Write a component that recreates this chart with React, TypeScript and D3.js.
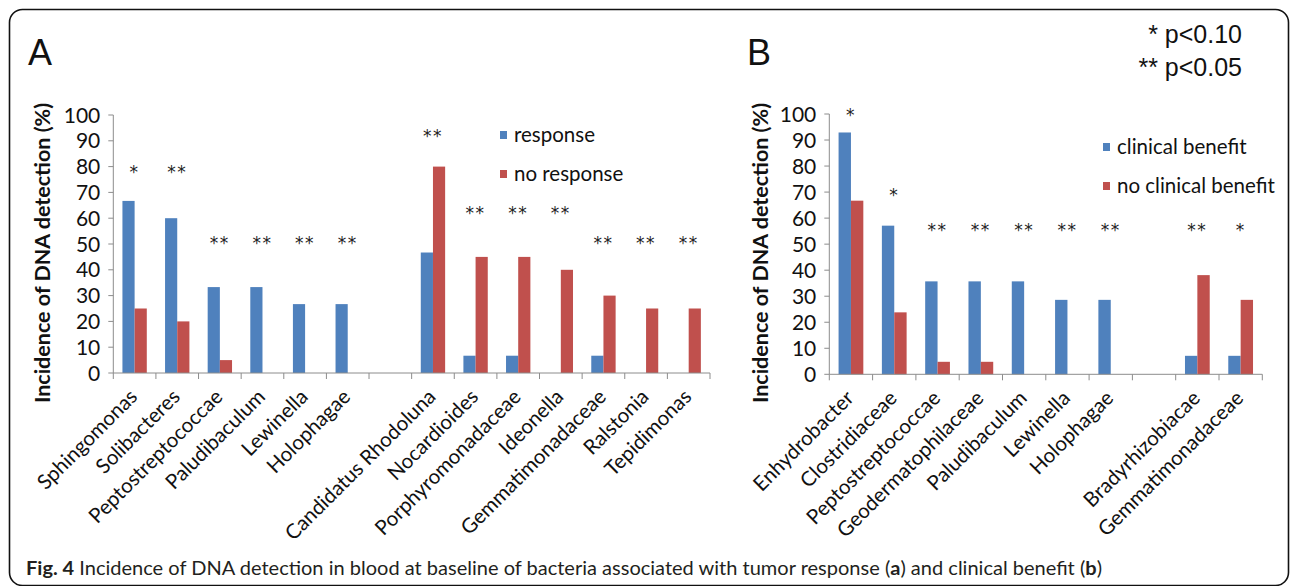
import React from "react";
import * as d3 from "d3";

// ---------- Data ----------
const categoriesA = [
  "Sphingomonas", "Solibacteres", "Peptostreptococcae", "Paludibaculum", "Lewinella", "Holophagae",
  "",
  "Candidatus Rhodoluna", "Nocardioides", "Porphyromonadaceae", "Ideonella", "Gemmatimonadaceae", "Ralstonia", "Tepidimonas",
];
const responseA = [66.7, 60, 33.3, 33.3, 26.7, 26.7, null, 46.7, 6.7, 6.7, 0, 6.7, 0, 0];
const noResponseA = [25, 20, 5, 0, 0, 0, null, 80, 45, 45, 40, 30, 25, 25];
const starsA = ["*", "**", "**", "**", "**", "**", "", "**", "**", "**", "**", "**", "**", "**"];
const starLevelA = [79, 79, 51.5, 51.5, 51.5, 51.5, null, 93, 63, 63, 63, 51.5, 51.5, 51.5];

const categoriesB = [
  "Enhydrobacter", "Clostridiaceae", "Peptostreptococcae", "Geodermatophilaceae", "Paludibaculum", "Lewinella", "Holophagae",
  "",
  "Bradyrhizobiacae", "Gemmatimonadaceae",
];
const benefitB = [92.9, 57.1, 35.7, 35.7, 35.7, 28.6, 28.6, null, 7.1, 7.1];
const noBenefitB = [66.7, 23.8, 4.8, 4.8, 0, 0, 0, null, 38.1, 28.6];
const starsB = ["*", "*", "**", "**", "**", "**", "**", "", "**", "*"];
const starLevelB = [100.5, 70, 56.5, 56.5, 56.5, 56.5, 56.5, null, 56.5, 56.5];

const yTicks = [0, 10, 20, 30, 40, 50, 60, 70, 80, 90, 100];
const seriesNamesA = ["response", "no response"];
const seriesNamesB = ["clinical benefit", "no clinical benefit"];

const BLUE = "#4F81BD";
const RED = "#C0504D";
const AXIS = "#8C8C8C";
const FONT = "Lato, 'Open Sans', sans-serif";
const STAR_FONT = "'DejaVu Sans', sans-serif";
const ARIAL = "'Liberation Sans', Arial, sans-serif";

type PanelProps = {
  cats: string[];
  s1: (number | null)[];
  s2: (number | null)[];
  stars: string[];
  starLevels: (number | null)[];
  x0: number;
  x1: number;
  y0: number;
  y100: number;
  legendNames: string[];
  legendX: number;
  legendY: number;
  titleX: number;
  titleY: number;
};

function Panel(p: PanelProps) {
  const keys = p.cats.map((c, i) => (c === "" ? `__gap${i}` : c));
  const x = d3.scaleBand<string>().domain(keys).range([p.x0, p.x1]).padding(0);
  const sub = d3
    .scaleBand<string>()
    .domain(["s1", "s2"])
    .range([0, x.bandwidth()])
    .paddingInner(0)
    .paddingOuter(0.75);
  const y = d3.scaleLinear().domain([0, 100]).range([p.y0, p.y100]);
  const boundaries = keys.map((k) => x(k) as number).concat([p.x1]);

  return (
    <g>
      {/* bars */}
      {keys.map((k, i) => {
        const bx = x(k) as number;
        const out: any[] = [];
        const v1 = p.s1[i];
        const v2 = p.s2[i];
        if (v1 != null && v1 > 0)
          out.push(
            <rect key={k + "a"} x={bx + (sub("s1") as number)} y={y(v1)} width={sub.bandwidth()} height={y(0) - y(v1)} fill={BLUE} />
          );
        if (v2 != null && v2 > 0)
          out.push(
            <rect key={k + "b"} x={bx + (sub("s2") as number)} y={y(v2)} width={sub.bandwidth()} height={y(0) - y(v2)} fill={RED} />
          );
        return out;
      })}
      {/* y axis */}
      <line x1={p.x0} x2={p.x0} y1={y(0)} y2={y(100)} stroke={AXIS} strokeWidth={1} />
      {yTicks.map((t) => (
        <g key={t}>
          <line x1={p.x0 - 5} x2={p.x0} y1={y(t)} y2={y(t)} stroke={AXIS} />
          <text x={p.x0 - 13} y={y(t)} dy="0.36em" textAnchor="end" fontFamily={FONT} fontSize={21} fill="#111">
            {t}
          </text>
        </g>
      ))}
      {/* x axis */}
      <line x1={p.x0} x2={p.x1} y1={y(0)} y2={y(0)} stroke={AXIS} strokeWidth={1} />
      {boundaries.map((bx, i) => (
        <line key={i} x1={bx} x2={bx} y1={y(0)} y2={y(0) + 6} stroke={AXIS} />
      ))}
      {/* x labels */}
      {keys.map((k, i) => {
        if (p.cats[i] === "") return null;
        const cx = (x(k) as number) + x.bandwidth() / 2 + 4;
        const cy = y(0) + 25;
        return (
          <text
            key={k + "lbl"}
            x={cx}
            y={cy}
            textAnchor="end"
            transform={`rotate(-45 ${cx} ${cy})`}
            fontFamily={FONT}
            fontSize={20.5}
            fill="#111"
          >
            {p.cats[i]}
          </text>
        );
      })}
      {/* significance stars */}
      {keys.map((k, i) => {
        const lv = p.starLevels[i];
        if (!p.stars[i] || lv == null) return null;
        return (
          <text
            key={k + "star"}
            x={(x(k) as number) + x.bandwidth() / 2}
            y={y(lv)}
            dy="0.5em"
            textAnchor="middle"
            fontFamily={STAR_FONT}
            fontSize={17}
            letterSpacing={1.5}
            fill="#222"
          >
            {p.stars[i]}
          </text>
        );
      })}
      {/* legend */}
      {p.legendNames.map((n, i) => (
        <g key={n}>
          <rect x={p.legendX} y={p.legendY + i * 39 - 4} width={7} height={8} fill={i === 0 ? BLUE : RED} />
          <text x={p.legendX + 14} y={p.legendY + i * 39} dy="0.35em" fontFamily={FONT} fontSize={20.5} fill="#111">
            {n}
          </text>
        </g>
      ))}
      {/* y title */}
      <text
        x={p.titleX}
        y={p.titleY}
        transform={`rotate(-90 ${p.titleX} ${p.titleY})`}
        textAnchor="middle"
        dy="0.35em"
        fontFamily={FONT}
        fontWeight="bold"
        fontSize={21.5}
        fill="#111"
      >
        Incidence of DNA detection (%)
      </text>
    </g>
  );
}

export default function App() {
  return (
    <svg
      width={1292}
      height={586}
      viewBox="0 0 1292 586"
      style={{ position: "absolute", left: 0, top: 0, background: "#fff" }}
    >
      <rect x={0} y={0} width={1292} height={586} fill="#fff" />
      <rect x={9.5} y={9.5} width={1279} height={576} rx={13} fill="none" stroke="#111" strokeWidth={1.6} />

      <text x={28} y={65} fontFamily={ARIAL} fontSize={36} fill="#111">A</text>
      <text x={747} y={65} fontFamily={ARIAL} fontSize={36} fill="#111">B</text>

      <text x={1242} y={43} textAnchor="end" fontFamily={ARIAL} fontSize={25} fill="#111">
        * p&lt;0.10
      </text>
      <text x={1242} y={76} textAnchor="end" fontFamily={ARIAL} fontSize={25} fill="#111">
        ** p&lt;0.05
      </text>

      <Panel
        cats={categoriesA}
        s1={responseA}
        s2={noResponseA}
        stars={starsA}
        starLevels={starLevelA}
        x0={113.3}
        x1={710}
        y0={373}
        y100={115}
        legendNames={seriesNamesA}
        legendX={500}
        legendY={135}
        titleX={42}
        titleY={253}
      />
      <Panel
        cats={categoriesB}
        s1={benefitB}
        s2={noBenefitB}
        stars={starsB}
        starLevels={starLevelB}
        x0={829.3}
        x1={1262.3}
        y0={374.3}
        y100={114}
        legendNames={seriesNamesB}
        legendX={1103}
        legendY={147}
        titleX={760}
        titleY={253}
      />

      <text x={26} y={575} fontFamily={FONT} fontSize={19} fill="#231f20" textLength={1076} lengthAdjust="spacingAndGlyphs">
        <tspan fontWeight="bold">Fig. 4</tspan> Incidence of DNA detection in blood at baseline of bacteria associated with tumor response (
        <tspan fontWeight="bold">a</tspan>) and clinical benefit (<tspan fontWeight="bold">b</tspan>)
      </text>
    </svg>
  );
}
